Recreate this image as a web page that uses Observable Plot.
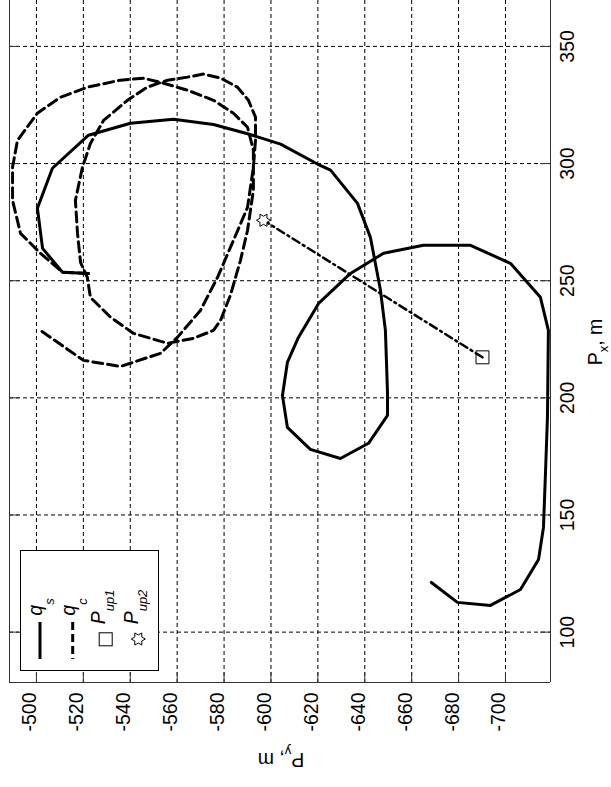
<!DOCTYPE html>
<html><head><meta charset="utf-8">
<script src="https://cdn.jsdelivr.net/npm/d3@7"></script>
<script src="https://cdn.jsdelivr.net/npm/@observablehq/plot@0.6"></script>
<style>html,body{margin:0;padding:0;background:#fff;overflow:hidden;} svg{display:block}</style>
</head><body><div id="chart"></div>
<script>
// Tick values
const pyTicks = [-500, -520, -540, -560, -580, -600, -620, -640, -660, -680, -700];
const pxTicks = [100, 150, 200, 250, 300, 350];

// q_s trajectory (solid)
const qsPy = [-522.2, -511.1, -502.6, -500.4, -506.8, -522.2, -540.1, -558.4, -575.5, -590.4, -604.1, -619.8, -625.4, -636.9, -642.4, -643.7, -646.7, -648.8, -649.7, -649.7, -641.6, -629.6, -616.8, -607.0, -604.9, -607.0, -611.7, -620.3, -633.9, -648.0, -665.0, -685.1, -702.1, -714.9, -718.3, -717.9, -717.1, -716.2, -714.1, -706.4, -693.6, -679.5, -668.4];
const qsPx = [253.1, 253.6, 263.8, 280.9, 298.0, 312.1, 317.2, 318.9, 316.7, 312.6, 308.3, 299.8, 297.2, 283.0, 268.5, 261.7, 245.9, 228.8, 201.9, 192.5, 180.6, 174.1, 178.0, 187.4, 201.0, 215.1, 225.8, 240.3, 253.1, 261.7, 265.1, 265.1, 257.4, 242.9, 228.8, 191.7, 169.0, 144.7, 131.0, 118.2, 111.4, 112.7, 121.2];

// q_c trajectory (dashed)
const qcPy = [-522.2, -511.1, -501.7, -493.2, -489.8, -489.8, -491.9, -500.4, -510.2, -521.7, -535.8, -545.6, -552.9, -564.4, -575.5, -584.0, -590.0, -592.5, -592.5, -590.0, -587.0, -582.7, -578.5, -575.5, -567.0, -555.9, -541.4, -531.6, -523.0, -521.7, -518.8, -517.5, -516.6, -519.6, -523.0, -528.6, -538.8, -547.3, -555.9, -564.4, -571.2, -578.5, -585.7, -590.4, -593.4, -593.4, -592.5, -590.0, -584.0, -577.2, -569.9, -560.1, -552.9, -535.8, -520.0, -501.7];
const qcPx = [253.1, 253.6, 261.7, 270.2, 284.3, 298.4, 309.9, 321.5, 328.3, 332.6, 335.6, 336.4, 334.7, 331.3, 327.0, 321.5, 315.5, 305.7, 288.6, 271.5, 258.7, 243.8, 233.1, 228.8, 225.4, 223.3, 227.5, 234.4, 242.9, 251.4, 257.8, 270.2, 284.3, 298.4, 308.6, 318.4, 327.0, 332.6, 335.6, 336.9, 338.2, 336.5, 332.6, 327.0, 319.8, 310.0, 298.4, 281.3, 267.2, 251.4, 237.3, 225.8, 219.0, 213.4, 216.0, 228.8];

// P_up1 (square) and P_up2 (hexagram)
const upNames = ["Pup1", "Pup2"];
const upPy = [-690.2, -596.8];
const upPx = [217.3, 275.8];

const xDomain = [-488.5, -719.2];
const yDomain = [78.5, 369.6];

const FONT = "'Liberation Sans', Arial, sans-serif";
const W = 611, H = 787, mL = 9, mR = 61, mT = 0, mB = 105;
const kx = (W - mL - mR) / Math.abs(xDomain[1] - xDomain[0]);
const ky = (H - mT - mB) / (yDomain[1] - yDomain[0]);
const TICK = 10;

const qs = qsPy.map((py, i) => ({py, px: qsPx[i]}));
const qc = qcPy.map((py, i) => ({py, px: qcPx[i]}));
const up = upPy.map((py, i) => ({name: upNames[i], py, px: upPx[i]}));

const hexagram = {
  draw(ctx, size) {
    const R = Math.sqrt(size / Math.PI), r = R / Math.sqrt(3);
    for (let i = 0; i < 12; i++) {
      const a = i * Math.PI / 6, rad = i % 2 === 0 ? R : r;
      const x = rad * Math.cos(a), y = rad * Math.sin(a);
      if (i === 0) ctx.moveTo(x, y); else ctx.lineTo(x, y);
    }
    ctx.closePath();
  }
};

const DASH = "10,5";
const DASHDOT = "8,4,2,4";
const GRID = "4,3";
const AX = "#333";

const svg = Plot.plot({
  width: W, height: H,
  marginLeft: mL, marginRight: mR, marginTop: mT, marginBottom: mB,
  x: {domain: xDomain, axis: null},
  y: {domain: yDomain, axis: null},
  style: {fontFamily: FONT, fontSize: "19.5px", background: "white", color: "black"},
  marks: [
    // grid
    Plot.ruleX(pyTicks, {x: d => d, stroke: "black", strokeWidth: 1, strokeDasharray: GRID}),
    Plot.ruleY(pxTicks, {y: d => d, stroke: "black", strokeWidth: 1, strokeDasharray: GRID}),
    // frame (top edge is cropped)
    Plot.ruleX(xDomain, {x: d => d, stroke: AX, strokeWidth: 1}),
    Plot.ruleY([yDomain[0]], {y: d => d, stroke: AX, strokeWidth: 1}),
    // inward ticks
    Plot.ruleX(pyTicks, {x: d => d, y1: yDomain[0], y2: yDomain[0] + TICK / ky, stroke: AX}),
    Plot.ruleY(pxTicks, {y: d => d, x1: xDomain[0], x2: xDomain[0] - TICK / kx, stroke: AX}),
    Plot.ruleY(pxTicks, {y: d => d, x1: xDomain[1], x2: xDomain[1] + TICK / kx, stroke: AX}),
    // tick labels
    Plot.text(pyTicks, {x: d => d, text: d => String(d), frameAnchor: "bottom", dy: 10, rotate: -90, textAnchor: "end", fill: "black"}),
    Plot.text(pxTicks, {y: d => d, text: d => String(d), frameAnchor: "right", dx: 10, rotate: -90, textAnchor: "middle", lineAnchor: "top", fill: "black"}),
    // data
    Plot.line(qs, {x: "py", y: "px", stroke: "black", strokeWidth: 3, strokeLinejoin: "round"}),
    Plot.line(qc, {x: "py", y: "px", stroke: "black", strokeWidth: 3, strokeDasharray: DASH}),
    Plot.line(up, {x: "py", y: "px", stroke: "black", strokeWidth: 2.5, strokeDasharray: DASHDOT}),
    Plot.dot(up.slice(0, 1), {x: "py", y: "px", symbol: "square", r: 7.3, stroke: "black", fill: "none", strokeWidth: 1}),
    Plot.dot(up.slice(1, 2), {x: "py", y: "px", symbol: hexagram, r: 7, stroke: "black", fill: "white", strokeWidth: 1})
  ]
});
document.getElementById("chart").appendChild(svg);

// Axis labels and legend
const g = d3.select(svg).append("g").attr("font-family", FONT).attr("fill", "black");

// P_y, m (upside down, under the chart)
const ty = g.append("text").attr("transform", "translate(281,753) rotate(180)")
  .attr("text-anchor", "middle").attr("font-size", 19.5);
ty.append("tspan").text("P");
ty.append("tspan").attr("font-size", 13).attr("dy", 6).text("y");
ty.append("tspan").attr("dy", -6).text(", m");

// P_x, m (right side)
const tx = g.append("text").attr("transform", "translate(602,342) rotate(-90)")
  .attr("text-anchor", "middle").attr("font-size", 19.5);
tx.append("tspan").text("P");
tx.append("tspan").attr("font-size", 13).attr("dy", 6).text("x");
tx.append("tspan").attr("dy", -6).text(", m");

// legend box
const lg = g.append("g");
lg.append("rect").attr("x", 20.5).attr("y", 550.5).attr("width", 138).attr("height", 120)
  .attr("fill", "white").attr("stroke", "black").attr("stroke-width", 1);
lg.append("line").attr("x1", 40).attr("x2", 40).attr("y1", 622).attr("y2", 659)
  .attr("stroke", "black").attr("stroke-width", 3);
lg.append("line").attr("x1", 72.7).attr("x2", 72.7).attr("y1", 622).attr("y2", 659)
  .attr("stroke", "black").attr("stroke-width", 3).attr("stroke-dasharray", "8,4");
lg.append("rect").attr("x", 99.2).attr("y", 632.8).attr("width", 13).attr("height", 13)
  .attr("fill", "none").attr("stroke", "black");
const p = d3.path(); hexagram.draw(p, Math.PI * 49);
lg.append("path").attr("d", p.toString()).attr("transform", "translate(138.3,639)")
  .attr("fill", "none").attr("stroke", "black");

function legendLabel(x, main, sub, shift) {
  const t = lg.append("text").attr("transform", `translate(${x},607) rotate(-90)`)
    .attr("font-size", 19.5).attr("font-style", "italic");
  t.append("tspan").text(main);
  t.append("tspan").attr("font-size", 13).attr("dy", shift).text(sub);
}
legendLabel(42, "q", "s", 12);
legendLabel(74.5, "q", "c", 12);
legendLabel(105, "P", "up1", 9);
legendLabel(138, "P", "up2", 9);
</script></body></html>
